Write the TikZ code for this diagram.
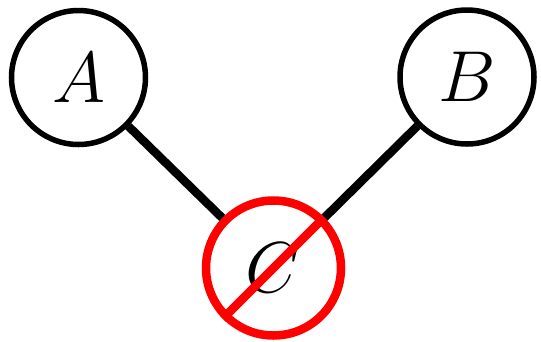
\documentclass[tikz,border=0pt]{standalone}
\usepackage{graphicx}
\newcommand{\biglabel}[1]{\scalebox{2.9}{\Huge $#1$}}
\begin{document}
\begin{tikzpicture}[x=1pt,y=-1pt,
  vnode/.style={circle,draw=black,line width=5.5pt,minimum size=134pt,inner sep=0pt},
  blocked/.style={circle,draw=red,line width=8.5pt,minimum size=135pt,inner sep=0pt},
  edge/.style={line width=8.5pt,black}]
\useasboundingbox (0,0) rectangle (541,341);
\node[vnode] (A) at (78.5,77.5) {\biglabel{A}};
\node[vnode] (B) at (467,77) {\biglabel{B}};
\node[blocked] (C) at (273.5,268) {\biglabel{C}};
\draw[edge] (A) -- (C);
\draw[edge] (B) -- (C);
\draw[red,line width=8.5pt] (C.45) -- (C.225);
\end{tikzpicture}
\end{document}
